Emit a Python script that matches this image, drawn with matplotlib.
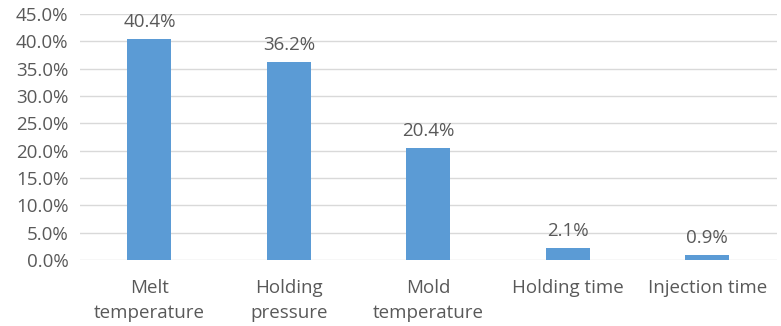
import matplotlib.pyplot as plt
import matplotlib.ticker as mticker

categories = ["Melt\ntemperature", "Holding\npressure", "Mold\ntemperature",
              "Holding time", "Injection time"]
shares = [40.4, 36.2, 20.4, 2.1, 0.9]
yticks = [0, 5, 10, 15, 20, 25, 30, 35, 40, 45]

plt.rcParams['font.family'] = ['Open Sans', 'DejaVu Sans']
grey = '#595959'
fs = 13.5

fig = plt.figure(figsize=(7.81, 3.26), dpi=100)
ax = fig.add_axes([0.102, 0.2025, 0.893, 0.755])

x = range(len(categories))
ax.bar(x, shares, width=0.315, color='#5b9bd5', zorder=3)
for xi, v in zip(x, shares):
    ax.text(xi, v + 1.5, f"{v:.1f}%", ha='center', va='bottom',
            fontsize=fs, color=grey)

ax.set_xlim(-0.5, len(categories) - 0.5)
ax.set_ylim(0, 45)
ax.set_yticks(yticks)
ax.yaxis.set_major_formatter(mticker.FuncFormatter(lambda v, p: f"{v:.1f}%"))
ax.set_xticks(list(x))
ax.set_xticklabels(categories, fontsize=fs, color=grey, linespacing=1.5)
ax.tick_params(axis='y', labelsize=fs, labelcolor=grey, length=0, pad=8)
ax.tick_params(axis='x', length=0, pad=14)
ax.grid(axis='y', color='#d9d9d9', linewidth=1, zorder=0)
for s in ax.spines.values():
    s.set_visible(False)

fig.savefig("out.png", dpi=100)
